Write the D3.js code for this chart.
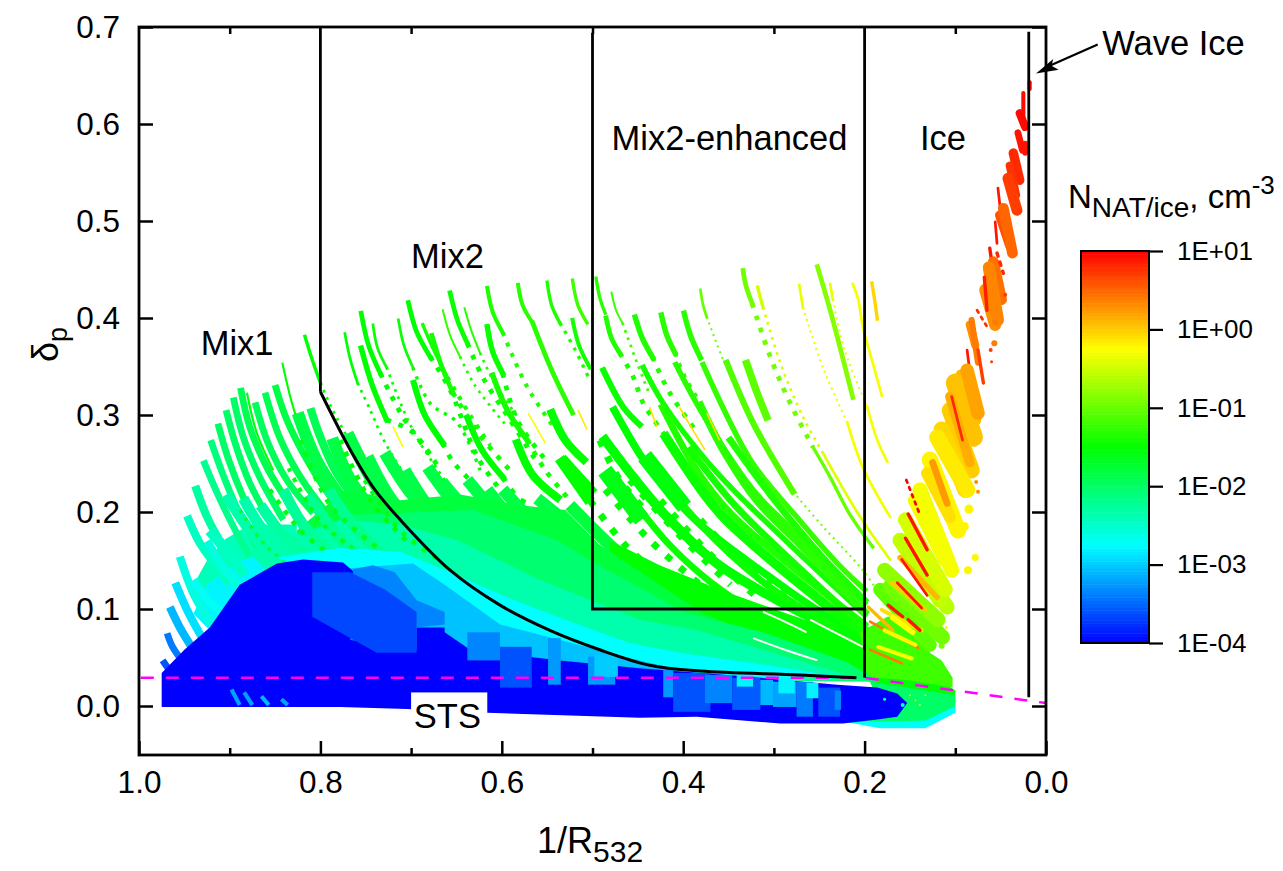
<!DOCTYPE html>
<meta charset="utf-8">
<style>
  body { margin: 0; background: #fff; }
  text { font-family: "Liberation Sans", Arial, sans-serif; fill: #000; }
  .axis path { display: none; }
  .axis line { stroke: #000; stroke-width: 2.5; }
  .axis text { font-size: 31.5px; }
  .legend line { stroke: #000; stroke-width: 2.2; }
  .legend text { font-size: 26px; }
  .label { font-size: 34.5px; }
</style>
<body>
<svg id="chart" width="1283" height="871"></svg>
<script src="https://d3js.org/d3.v7.min.js"></script>
<script>

// Values. Tracks are [log10 N, symbol size, points (1/R, delta)]

var xTicks = [1.0, 0.8, 0.6, 0.4, 0.2, 0.0];
var xMinor = [0.9, 0.7, 0.5, 0.3, 0.1];
var yTicks = [0.0, 0.1, 0.2, 0.3, 0.4, 0.5, 0.6, 0.7];
var legendTicks = [1, 0, -1, -2, -3, -4];
var legendLabels = ["1E+01", "1E+00", "1E-01", "1E-02", "1E-03", "1E-04"];

var labels = [
  ["Mix1", 0.932, 0.362], ["Mix2", 0.700, 0.452], ["Mix2-enhanced", 0.479, 0.573],
  ["Ice", 0.139, 0.573], ["Wave Ice", -0.062, 0.671]
];

// left comb
var mix1Tracks = [
  [-1.85, 5, [[.850,.331],[.837,.295],[.815,.254],[.786,.212],[.753,.181]]],
  [-1.9, 5, [[.861,.323],[.845,.277],[.822,.236],[.793,.199]]],
  [-1.95, 5, [[.872,.313],[.859,.274],[.837,.233],[.808,.199]]],
  [-1.9, 5, [[.888,.328],[.878,.288],[.859,.246],[.830,.202]]],
  [-2.0, 5, [[.896,.318],[.885,.277],[.867,.236],[.841,.192]]],
  [-2.0, 5, [[.904,.305],[.894,.271],[.878,.230],[.852,.185]]],
  [-2.0, 5, [[.913,.291],[.902,.256],[.885,.215],[.863,.174]]],
  [-2.1, 5, [[.921,.274],[.908,.240],[.891,.202],[.870,.164]]],
  [-2.2, 5, [[.929,.253],[.914,.220],[.896,.185],[.878,.154]]],
  [-2.3, 6, [[.938,.227],[.925,.195],[.907,.164],[.892,.143]]],
  [-2.45, 6, [[.947,.196],[.933,.168],[.914,.143],[.900,.125]]],
  [-2.6, 6, [[.925,.170],[.905,.140],[.888,.122]]],
  [-2.6, 6, [[.955,.154],[.940,.116],[.918,.081]]],
  [-2.7, 6, [[.940,.130],[.920,.105],[.905,.095]]],
  [-2.9, 6, [[.960,.127],[.947,.099],[.929,.068]]],
  [-3.1, 6, [[.966,.102],[.955,.081],[.940,.058]]],
  [-3.4, 5, [[.969,.075],[.963,.061],[.947,.040]]],
  [-3.6, 5, [[.974,.047],[.964,.034],[.951,.020]]],
  [-1.9, 6, [[.811,.307],[.800,.277],[.782,.240],[.756,.207]]]
];

var thinTracks = [
  [-1.55, 1.6, [[.881,.323],[.870,.281],[.852,.243]]],
  [-1.5, 1.6, [[.842,.354],[.828,.302],[.808,.257]]]
];

// serrated band along the top of the dense fan
var bandTracks = [
  [-1.85, 9, [[.825,.302],[.803,.251],[.767,.202]]],
  [-1.85, 9, [[.787,.276],[.767,.233],[.729,.187]]],
  [-1.85, 9, [[.770,.281],[.743,.233],[.701,.181]]],
  [-1.85, 9, [[.748,.257],[.721,.212],[.668,.161]]],
  [-1.85, 9, [[.729,.261],[.699,.218],[.646,.166]]],
  [-1.85, 9, [[.707,.243],[.674,.197],[.613,.145]]],
  [-1.85, 9, [[.682,.246],[.646,.202],[.580,.145]]],
  [-1.85, 9, [[.666,.231],[.624,.187],[.558,.135]]],
  [-1.85, 9, [[.638,.233],[.596,.187],[.536,.130]]],
  [-1.85, 9, [[.616,.223],[.574,.176],[.519,.130]]],
  [-1.85, 9, [[.599,.223],[.552,.176],[.492,.120]]],
  [-1.85, 9, [[.561,.214],[.519,.181],[.470,.135]]],
  [-1.8, 9, [[.525,.207],[.481,.166],[.437,.130]]]
];

var tealTracks = [
  [-2.35, 8, [[.904,.218],[.878,.181],[.851,.151]]],
  [-2.35, 8, [[.885,.214],[.863,.181],[.830,.151]]],
  [-2.3, 8, [[.866,.207],[.841,.176],[.808,.151]]],
  [-2.25, 8, [[.841,.223],[.819,.187],[.781,.151]]],
  [-2.2, 8, [[.813,.218],[.791,.187],[.753,.145]]],
  [-2.2, 8, [[.791,.223],[.764,.187],[.720,.145]]],
  [-2.45, 8, [[.922,.181],[.900,.156],[.884,.135]]]
];

var mix2Tracks = [
  [-1.5, 2.5, [[.817,.381],[.809,.357],[.800,.333]]],
  [-1.5, 2, [[.773,.384],[.767,.357],[.759,.333]]],
  [-1.5, 3.5, [[.755,.405],[.747,.372],[.734,.343]]],
  [-1.45, 2, [[.742,.393],[.737,.369],[.727,.349]]],
  [-1.5, 4, [[.755,.369],[.743,.331],[.727,.295]]],
  [-1.45, 2, [[.714,.398],[.708,.372],[.698,.349]]],
  [-1.5, 3.5, [[.703,.416],[.694,.386],[.679,.360]]],
  [-1.5, 4.5, [[.697,.333],[.685,.300],[.665,.271]]],
  [-1.4, 2.5, [[.687,.393],[.676,.369],[.660,.339]]],
  [-1.4, 3.5, [[.677,.382],[.667,.352],[.654,.323]]],
  [-1.45, 3.5, [[.657,.426],[.649,.398],[.638,.374]]],
  [-1.25, 1.5, [[.665,.408],[.657,.382],[.646,.360]]],
  [-1.3, 1.5, [[.641,.410],[.634,.388],[.624,.364]]],
  [-1.5, 4.5, [[.638,.297],[.622,.264],[.599,.236]]],
  [-1.35, 3, [[.616,.431],[.610,.406],[.599,.385]]],
  [-1.45, 4, [[.616,.391],[.610,.365],[.599,.343]]],
  [-1.4, 4, [[.610,.341],[.594,.305],[.572,.274]]],
  [-1.5, 6, [[.583,.271],[.566,.238],[.539,.215]]],
  [-1.3, 3, [[.582,.434],[.577,.413],[.566,.395]]],
  [-1.3, 3.5, [[.566,.395],[.544,.344],[.522,.302]]],
  [-1.35, 2.5, [[.550,.437],[.545,.413],[.536,.395]]],
  [-1.2, 2.5, [[.522,.439],[.516,.413],[.506,.395]]],
  [-1.4, 3, [[.522,.398],[.515,.372],[.503,.349]]],
  [-1.5, 6, [[.545,.302],[.530,.274],[.510,.254]]],
  [-1.5, 8, [[.530,.251],[.503,.223]]]
];

var mix2Dots = [
  [-1.5, 2, [[.800,.333],[.789,.310],[.764,.267],[.740,.233]]],
  [-1.5, 2, [[.759,.333],[.745,.305],[.729,.272],[.707,.238]]],
  [-1.5, 3.5, [[.734,.343],[.709,.298],[.679,.259]]],
  [-1.45, 2, [[.727,.349],[.707,.302],[.690,.271],[.663,.233]]],
  [-1.5, 3.5, [[.727,.295],[.698,.282],[.668,.243]]],
  [-1.45, 2.5, [[.698,.349],[.679,.312],[.649,.292],[.624,.243]]],
  [-1.5, 3.5, [[.679,.360],[.657,.326],[.627,.257],[.602,.223]]],
  [-1.5, 3.5, [[.665,.271],[.654,.252],[.624,.223]]],
  [-1.4, 3, [[.660,.339],[.635,.300],[.613,.269]]],
  [-1.4, 3.5, [[.654,.323],[.624,.279],[.591,.243]]],
  [-1.45, 3.5, [[.638,.374],[.621,.339],[.591,.295],[.563,.254]]],
  [-1.35, 2, [[.646,.360],[.630,.331],[.596,.290]]],
  [-1.35, 2, [[.624,.364],[.607,.331],[.580,.295]]],
  [-1.5, 4, [[.599,.236],[.583,.215],[.569,.207]]],
  [-1.35, 3, [[.599,.385],[.572,.329],[.541,.285]]],
  [-1.45, 3.5, [[.599,.343],[.583,.295],[.552,.254]]],
  [-1.4, 3.5, [[.572,.274],[.552,.243],[.525,.212]]],
  [-1.35, 2.5, [[.536,.395],[.519,.367],[.503,.336]]]
];

var enhancedTracks = [
  [-1.3, 2.5, [[.496,.441],[.492,.421],[.486,.405]]],
  [-1.2, 1.5, [[.479,.426],[.474,.408],[.467,.395]]],
  [-1.35, 3.5, [[.485,.400],[.479,.379],[.470,.364]]],
  [-1.35, 4, [[.453,.401],[.445,.379],[.434,.360]]],
  [-1.3, 4, [[.424,.403],[.418,.382],[.409,.364]]],
  [-1.3, 4, [[.399,.405],[.392,.382],[.381,.359]]],
  [-1.0, 2, [[.381,.429],[.378,.413],[.374,.401]]],
  [-0.95, 3.5, [[.334,.449],[.331,.434],[.324,.415]]],
  [-1.0, 2.5, [[.257,.267],[.238,.236],[.216,.197],[.191,.164]]],
  [-0.45, 2.5, [[.318,.432],[.315,.421],[.312,.411]]],
  [-0.4, 2, [[.246,.261],[.205,.195],[.172,.151]]],
  [-0.85, 3.5, [[.252,.453],[.238,.408],[.213,.318]]],
  [-0.05, 2.5, [[.192,.436],[.189,.419],[.186,.399]]],
  [-0.3, 2, [[.213,.435],[.207,.419],[.202,.391],[.192,.357],[.181,.320]]],
  [-0.35, 2, [[.238,.435],[.235,.419]]],
  [-0.3, 2, [[.197,.308],[.186,.274],[.175,.252]]],
  [-0.35, 2, [[.272,.434],[.268,.411]]],
  [-0.3, 2, [[.219,.292],[.202,.246],[.172,.195]]],
  [-1.1, 4.5, [[.352,.354],[.323,.292],[.279,.221]]],
  [-1.05, 5.5, [[.330,.353],[.319,.324],[.308,.298]]],
  [-1.25, 4, [[.378,.352],[.326,.254],[.275,.195],[.230,.147],[.200,.120]]],
  [-1.3, 4, [[.408,.352],[.381,.305],[.323,.223],[.268,.171],[.200,.106]]],
  [-1.4, 4, [[.444,.349],[.422,.312],[.378,.257],[.345,.223],[.282,.166],[.200,.094]]],
  [-1.45, 4.5, [[.488,.346],[.466,.308],[.448,.290]]],
  [-1.5, 5.5, [[.476,.305],[.444,.254],[.418,.223],[.381,.187],[.315,.140],[.249,.097],[.200,.073]]],
  [-1.35, 5, [[.423,.308],[.385,.243],[.348,.199],[.282,.145],[.200,.084]]],
  [-1.3, 5.5, [[.381,.310],[.356,.264],[.319,.212],[.271,.166],[.200,.097]]],
  [-1.45, 7, [[.419,.277],[.378,.220],[.356,.195],[.304,.151],[.200,.073]]],
  [-1.5, 7, [[.486,.274],[.455,.236],[.418,.195],[.363,.147],[.290,.106],[.200,.065]]],
  [-1.45, 5, [[.464,.223],[.415,.166],[.359,.120],[.282,.076],[.200,.053]]],
  [-1.45, 5, [[.431,.243],[.381,.187],[.315,.130],[.249,.089],[.200,.063]]],
  [-1.4, 5, [[.392,.264],[.343,.207],[.282,.151],[.200,.080]]],
  [-1.35, 5, [[.348,.274],[.304,.218],[.249,.156],[.200,.109]]],
  [-1.55, 12, [[.437,.251],[.404,.212]]],
  [-1.6, 12, [[.481,.236],[.451,.199]]],
  [-1.5, 8, [[.533,.251],[.506,.215]]]
];

var enhancedDots = [
  [-1.2, 2, [[.467,.395],[.451,.354],[.437,.321]]],
  [-1.35, 3.5, [[.470,.364],[.455,.339],[.444,.312],[.420,.279]]],
  [-1.35, 3.5, [[.434,.360],[.415,.323],[.387,.285]]],
  [-1.3, 3, [[.409,.364],[.398,.339],[.376,.305]]],
  [-1.0, 1.5, [[.374,.401],[.356,.357],[.343,.331]]],
  [-0.95, 3.5, [[.324,.415],[.304,.360],[.282,.312],[.257,.267]]],
  [-0.45, 2, [[.312,.411],[.293,.354],[.268,.298],[.246,.261]]],
  [-0.35, 1.5, [[.235,.419],[.222,.367],[.197,.308]]],
  [-0.35, 1.5, [[.268,.411],[.246,.349],[.219,.292]]],
  [-0.95, 1.5, [[.279,.221],[.246,.185],[.202,.140],[.181,.112]]],
  [-1.5, 5, [[.503,.212],[.464,.166],[.415,.125]]],
  [-1.5, 5, [[.486,.223],[.437,.171],[.381,.125]]],
  [-1.5, 5, [[.459,.233],[.404,.176],[.348,.125]]],
  [-1.45, 5, [[.425,.212],[.370,.156],[.315,.109]]],
  [-1.45, 5, [[.381,.192],[.332,.145],[.282,.109]]],
  [-1.5, 5, [[.492,.274],[.470,.233],[.437,.197]]]
];

var leftDots = [
  [-1.6, 3.5, [[.822,.274],[.789,.207],[.734,.161]]],
  [-1.6, 3.5, [[.856,.223],[.822,.181],[.789,.156]]],
  [-1.7, 2.5, [[.889,.202],[.861,.166],[.834,.145]]],
  [-1.55, 3.5, [[.778,.274],[.745,.212],[.701,.166]]],
  [-1.6, 3.5, [[.751,.233],[.712,.181],[.668,.150]]],
  [-1.55, 3, [[.835,.245],[.800,.190],[.760,.160]]]
];

var orangeTracks = [
  [-0.1, 1.2, [[.437,.308],[.429,.288]]],
  [-0.1, 1.2, [[.404,.308],[.396,.295],[.376,.264]]],
  [-0.1, 1.2, [[.374,.302],[.360,.274]]],
  [-0.3, 1.2, [[.571,.302],[.552,.271]]],
  [-0.3, 1.2, [[.720,.288],[.709,.267]]],
  [-0.15, 1.2, [[.516,.305],[.506,.285]]]
];

// nested fills of the dense fan, painted in this order
var fanGreen = [[.481,.171],[.426,.145],[.360,.120],[.282,.094],[.200,.068],[.155,.053],[.100,.016],[.100,.001],[.161,.011],[.200,.027],[.315,.047],[.437,.084],[.481,.120]];
var fanLime = [[.205,.076],[.175,.092],[.155,.094],[.130,.071],[.128,.055],[.115,.047],[.103,.029],[.103,.019],[.155,.027],[.197,.030]];
var fanSpring = [[.826,.181],[.773,.223],[.712,.212],[.646,.218],[.580,.207],[.530,.202],[.492,.166],[.437,.132],[.381,.097],[.312,.068],[.216,.035],[.381,.035],[.657,.109],[.767,.142],[.826,.145]];
var fanMint = [[.767,.197],[.632,.202],[.539,.171],[.499,.148],[.444,.120],[.400,.097],[.312,.076],[.219,.045],[.183,.025],[.381,.027],[.602,.089],[.712,.140],[.767,.142]];
var fanTeal = [[.880,.160],[.778,.192],[.712,.187],[.649,.171],[.558,.130],[.448,.089],[.385,.078],[.312,.058],[.238,.037],[.205,.027],[.381,.027],[.602,.089],[.712,.140],[.850,.130]];
var fanCyan = [[.850,.153],[.778,.163],[.712,.159],[.657,.138],[.594,.112],[.522,.086],[.459,.065],[.404,.055],[.315,.043],[.238,.032],[.381,.022],[.602,.058],[.767,.130]];
var fanSky = [[.767,.142],[.698,.147],[.663,.125],[.621,.097],[.602,.084],[.536,.068],[.466,.051],[.404,.037],[.448,.016],[.657,.047],[.767,.109]];
var combFill = [[.940,.125],[.925,.150],[.905,.172],[.878,.187],[.826,.187],[.826,.151],[.889,.120],[.922,.078]];
var combCyan = [[.940,.095],[.925,.125],[.889,.150],[.848,.158],[.848,.147],[.889,.120],[.922,.078]];
var tipSpring = [[.194,.025],[.100,.011],[.100,-.006],[.128,-.020],[.161,-.020],[.216,-.016],[.180,-.006]];
var tipCyan = [[.224,-.016],[.183,-.023],[.133,-.023],[.100,-.007],[.100,0],[.133,-.015],[.172,-.016]];
var stsBlue = [[.975,-.001],[.975,.034],[.950,.058],[.922,.081],[.889,.125],[.848,.147],[.819,.151],[.775,.148],[.765,.140],[.694,.081],[.663,.081],[.663,.076],[.635,.058],[.536,.047],[.448,.039],[.337,.031],[.230,.022],[.186,.019],[.164,.013],[.153,.003],[.164,-.011],[.186,-.014],[.224,-.018],[.293,-.018],[.385,-.011],[.448,-.012],[.616,-.007],[.705,-.003],[.778,-.001]];
var stsPale = [[.764,.141],[.742,.145],[.718,.138],[.694,.109],[.663,.097],[.663,.084],[.694,.081],[.694,.058],[.767,.068]];
var stsMid = [[.809,.138],[.767,.138],[.729,.120],[.694,.097],[.694,.055],[.738,.055],[.809,.092]];

// [x0, x1, y0, y1, log10 N]
var stsBlocks = [
  [.638,.602,.076,.047,-3.35],
  [.602,.567,.061,.019,-3.6],
  [.549,.535,.070,.022,-3.25],
  [.505,.475,.051,.022,-3.25],
  [.498,.472,.053,.030,-3.0],
  [.422,.411,.037,.009,-3.25],
  [.411,.370,.034,-.006,-3.6],
  [.376,.346,.032,.003,-3.35],
  [.346,.315,.029,-.004,-3.55],
  [.315,.301,.027,.001,-3.1],
  [.301,.275,.025,-.001,-3.2],
  [.341,.323,.034,.020,-2.8],
  [.295,.277,.029,.013,-2.8],
  [.275,.257,.025,-.011,-3.4],
  [.251,.227,.019,-.011,-3.6],
  [.233,.226,.016,-.004,-3.35],
  [.264,.251,.024,.008,-2.8]
];

var notchTracks = [
  [-3.2, 3, [[.898,.017],[.889,.001]]],
  [-3.2, 3, [[.884,.014],[.875,.001]]],
  [-3.1, 3, [[.865,.010],[.857,.001]]],
  [-3.2, 3, [[.843,.007],[.836,.001]]]
];

var iceTracks = [
  [1.0, 3, [[.018,.643],[.018,.636]]],
  [.95, 3, [[.025,.632],[.025,.604]]],
  [.95, 6, [[.029,.611],[.023,.597]]],
  [.9, 5, [[.031,.591],[.026,.573]]],
  [.9, 4, [[.023,.580],[.023,.570]]],
  [.8, 7, [[.036,.570],[.029,.542]]],
  [.75, 6, [[.040,.557],[.033,.527]]],
  [.7, 8, [[.042,.544],[.032,.511]]],
  [.9, 2, [[.053,.534],[.049,.501]]],
  [.6, 7, [[.051,.506],[.040,.475]]],
  [.5, 8, [[.047,.513],[.037,.467]]],
  [.9, 2, [[.056,.499],[.054,.477]]],
  [.9, 2.5, [[.062,.472],[.058,.446]]],
  [.45, 8, [[.058,.458],[.049,.419]]],
  [.3, 9, [[.067,.429],[.056,.393]]],
  [.35, 9, [[.063,.452],[.053,.398]]],
  [.85, 2.5, [[.068,.442],[.065,.408]]],
  [.3, 6, [[.084,.393],[.078,.372]]],
  [.4, 4.5, [[.082,.398],[.075,.354]]],
  [.9, 2, [[.087,.367],[.080,.315]]],
  [.7, 2.5, [[.075,.367],[.069,.333]]],
  [.1, 9, [[.093,.341],[.078,.295]]],
  [.05, 14, [[.100,.333],[.080,.277]]],
  [.2, 10, [[.087,.346],[.075,.302]]],
  [0, 12, [[.106,.305],[.082,.243]]],
  [-.05, 12, [[.115,.285],[.089,.223]]],
  [.15, 7, [[.106,.319],[.084,.251]]],
  [.8, 2, [[.104,.319],[.092,.274]]],
  [-.2, 12, [[.128,.254],[.097,.181]]],
  [-.15, 12, [[.120,.277],[.087,.223]]],
  [-.1, 9, [[.131,.240],[.106,.195]]],
  [.25, 5, [[.125,.251],[.109,.209]]],
  [-1.05, 10, [[.183,.120],[.128,.063]]],
  [-.95, 11, [[.172,.123],[.114,.071]]],
  [-.8, 11, [[.178,.140],[.119,.089]]],
  [-.6, 11, [[.158,.168],[.109,.102]]],
  [-.55, 11, [[.161,.171],[.117,.109]]],
  [-.45, 11, [[.155,.192],[.111,.120]]],
  [-.3, 11, [[.144,.212],[.111,.151]]],
  [-.3, 11, [[.139,.223],[.104,.140]]],
  [.9, 2.5, [[.152,.198],[.131,.161]]],
  [.9, 2.5, [[.155,.173],[.131,.135]]],
  [.1, 4, [[.161,.153],[.120,.112]]],
  [.9, 2, [[.159,.151],[.131,.114]]],
  [0, 3, [[.170,.127],[.133,.099]]],
  [.9, 2, [[.164,.127],[.137,.101]]],
  [-.1, 3, [[.181,.099],[.137,.078]]],
  [.1, 2.5, [[.196,.102],[.169,.078]]],
  [.9, 2.5, [[.174,.104],[.158,.092]]],
  [.9, 2.5, [[.152,.089],[.139,.078]]],
  [-.25, 4, [[.169,.091],[.147,.076]]],
  [.4, 2, [[.194,.087],[.141,.060]]],
  [-.3, 3, [[.185,.061],[.148,.049]]],
  [-.2, 3, [[.178,.078],[.144,.063]]],
  [.4, 2, [[.194,.058],[.159,.044]]]
];

var iceDotted = [
  [.8, 2.5, [[.054,.467],[.047,.446]]],
  [.8, 2, [[.076,.408],[.065,.391]]],
  [1.0, 2, [[.154,.233],[.139,.197]]]
];

// scattered round symbols [x, y, log10 N, radius]
var iceDots = [
  [.057,.374,.4,3],[.061,.367,.7,2],[.060,.355,.7,1.5],[.045,.424,.7,2],[.031,.509,.7,3],[.056,.395,.4,3],
  [.085,.203,-.2,4.5],[.090,.185,-.2,4.5],[.078,.153,-.2,3.5],[.086,.140,-.2,4],[.077,.231,.3,2],[.075,.221,.3,2],
  [.115,.062,-.9,3],[.110,.081,-.2,1.5],[.144,.006,-.1,1],[.150,.011,-.3,1],[.139,.001,-.2,1],[.133,.011,-.3,1],
  [.178,.007,-2.6,1.5],[.158,.001,-2.6,2]
];

// white slivers left between tracks
var gapTracks = [
  [[.323,.070],[.288,.058],[.252,.047]],
  [[.260,.089],[.233,.076],[.202,.061]],
  [[.312,.097],[.288,.087],[.264,.076]]
];

var boundaryCurve = [[.800,.324],[.767,.264],[.740,.223],[.712,.192],[.657,.140],[.602,.104],[.547,.078],[.492,.058],[.437,.042],[.381,.036],[.271,.032],[.209,.029]];
var boundaryLines = [
  [[.8,.7],[.8,.324]],
  [[.5,.694],[.5,.1],[.2,.1]],
  [[.2,.7],[.2,.029]],
  [[.019,.695],[.019,.009]]
];
var stsLine = [[.998,.029],[.2,.029],[0,.003]];

var svg = d3.select("#chart");

var x = d3.scaleLinear().domain([1, 0]).range([139, 1046]);
var y = d3.scaleLinear().domain([0, 0.7]).range([706, 27]);
var nColor = d3.scaleLinear()
    .domain([-4, -2.75, -1.5, -0.25, 1])
    .range(["#0000ff", "#00ffff", "#00ff00", "#ffff00", "#ff0000"]);
var nPos = d3.scaleLinear().domain([-4, 1]).range([643, 251]);
var symbolWidth = d3.scaleLinear().domain([0, 14]).range([0, 19]);

var curveLine = d3.line()
    .x(function(d) { return x(d[0]); })
    .y(function(d) { return y(d[1]); })
    .curve(d3.curveCatmullRom.alpha(0.5));
var straight = d3.line()
    .x(function(d) { return x(d[0]); })
    .y(function(d) { return y(d[1]); });
var plot = svg.append("g");

function drawTracks(data, cap, dotted) {
  plot.append("g").selectAll("path")
    .data(data)
    .enter().append("path")
    .attr("d", function(d) { return curveLine(d[2]); })
    .attr("fill", "none")
    .attr("stroke", function(d) { return nColor(d[0]); })
    .attr("stroke-width", function(d) { return symbolWidth(d[1]); })
    .attr("stroke-linecap", cap)
    .attr("stroke-dasharray", function(d) {
      var w = symbolWidth(d[1]);
      return dotted ? w + " " + (w * 1.5 + 1) : null;
    });
}

function drawFill(points, logN) {
  plot.append("path")
    .attr("d", straight(points) + "Z")
    .attr("fill", nColor(logN));
}

// back to front
drawTracks(mix2Dots, "butt", true);
drawTracks(enhancedDots, "butt", true);
drawTracks(mix2Tracks, "square", false);
drawTracks(enhancedTracks, "square", false);
drawTracks(orangeTracks, "butt", false);
drawFill(combFill, -2.4);
drawFill(combCyan, -2.8);
drawTracks(mix1Tracks, "butt", false);
drawTracks(thinTracks, "butt", false);
drawTracks(bandTracks, "butt", false);

drawFill(fanGreen, -1.5);
drawFill(fanLime, -1.2);
drawFill(fanSpring, -1.8);
drawFill(fanMint, -2.05);
drawFill(fanTeal, -2.35);
drawTracks(tealTracks, "butt", false);
drawTracks(leftDots, "butt", true);

plot.append("g").selectAll("path")
  .data(gapTracks)
  .enter().append("path")
  .attr("d", curveLine)
  .attr("fill", "none")
  .attr("stroke", "#fff")
  .attr("stroke-width", 2);

drawFill(fanCyan, -2.75);
drawFill(fanSky, -3.05);
drawFill(tipSpring, -2.0);
drawFill(tipCyan, -2.7);
drawFill(stsBlue, -4);
drawFill(stsPale, -3.35);
drawFill(stsMid, -3.65);

plot.append("g").selectAll("rect")
  .data(stsBlocks)
  .enter().append("rect")
  .attr("x", function(d) { return x(d[0]); })
  .attr("width", function(d) { return x(d[1]) - x(d[0]); })
  .attr("y", function(d) { return y(d[2]); })
  .attr("height", function(d) { return y(d[3]) - y(d[2]); })
  .attr("fill", function(d) { return nColor(d[4]); });

drawTracks(notchTracks, "butt", false);
drawTracks(iceTracks, "round", false);
drawTracks(iceDotted, "round", true);

plot.append("g").selectAll("circle")
  .data(iceDots)
  .enter().append("circle")
  .attr("cx", function(d) { return x(d[0]); })
  .attr("cy", function(d) { return y(d[1]); })
  .attr("r", function(d) { return d[3]; })
  .attr("fill", function(d) { return nColor(d[2]); });

// reference lines
svg.append("path")
  .attr("d", straight(stsLine))
  .attr("fill", "none")
  .attr("stroke", "#ff00ff")
  .attr("stroke-width", 2.5)
  .attr("stroke-dasharray", "13 12");

svg.append("path")
  .attr("d", curveLine(boundaryCurve))
  .attr("fill", "none")
  .attr("stroke", "#000")
  .attr("stroke-width", 3);

svg.append("g").selectAll("path")
  .data(boundaryLines)
  .enter().append("path")
  .attr("d", straight)
  .attr("fill", "none")
  .attr("stroke", "#000")
  .attr("stroke-width", 2.8);

// STS label sits in its own white box
svg.append("rect")
  .attr("x", x(0.700)).attr("y", y(0.014))
  .attr("width", x(0.616) - x(0.700)).attr("height", y(-0.030) - y(0.014))
  .attr("fill", "#fff");
svg.append("text")
  .attr("class", "label")
  .attr("x", x(0.660)).attr("y", y(-0.023))
  .attr("text-anchor", "middle")
  .text("STS");

svg.selectAll(".txt")
  .data(labels)
  .enter().append("text")
  .attr("class", "label")
  .attr("x", function(d) { return x(d[1]); })
  .attr("y", function(d) { return y(d[2]); })
  .text(function(d) { return d[0]; });

// frame and axes
svg.append("rect")
  .attr("x", 139).attr("y", 27).attr("width", 907).attr("height", 728)
  .attr("fill", "none").attr("stroke", "#000").attr("stroke-width", 2.8);

var fmt = d3.format(".1f");

svg.append("g").attr("class", "axis").attr("transform", "translate(0,755)")
  .call(d3.axisBottom(x).tickValues(xTicks).tickFormat(fmt).tickSize(-14).tickPadding(16));
svg.append("g").attr("class", "axis").attr("transform", "translate(0,755)")
  .call(d3.axisBottom(x).tickValues(xMinor).tickFormat("").tickSize(-7));
svg.append("g").attr("class", "axis").attr("transform", "translate(0,27)")
  .call(d3.axisTop(x).tickValues(xMinor).tickFormat("").tickSize(-7));
svg.append("g").attr("class", "axis").attr("transform", "translate(139,0)")
  .call(d3.axisLeft(y).tickValues(yTicks).tickFormat(fmt).tickSize(-14).tickPadding(19));
svg.append("g").attr("class", "axis").attr("transform", "translate(1046,0)")
  .call(d3.axisRight(y).tickValues(yTicks).tickFormat("").tickSize(-14));

// axis titles
var xTitle = svg.append("text").attr("x", 537).attr("y", 853).attr("font-size", 36);
xTitle.append("tspan").text("1/R");
xTitle.append("tspan").attr("dy", 9).attr("font-size", 30).text("532");

var yTitle = svg.append("text")
  .attr("transform", "translate(58,362) rotate(-90)")
  .attr("font-size", 36);
yTitle.append("tspan").text("\u03b4");
yTitle.append("tspan").attr("dy", 9).attr("font-size", 27).text("p");

// colour scale
var legendStep = 5 / 120;
var steps = d3.range(-4, 1, legendStep);
svg.append("g").selectAll("rect")
  .data(steps)
  .enter().append("rect")
  .attr("x", 1081).attr("width", 68)
  .attr("y", function(d) { return nPos(d + legendStep); })
  .attr("height", nPos(0) - nPos(legendStep) + 0.5)
  .attr("fill", function(d) { return nColor(d + legendStep / 2); });
svg.append("rect")
  .attr("x", 1081).attr("y", 251).attr("width", 68).attr("height", 392)
  .attr("fill", "none").attr("stroke", "#000").attr("stroke-width", 2);

svg.append("g").attr("class", "legend").attr("transform", "translate(1149,0)")
  .call(d3.axisRight(nPos).tickValues(legendTicks)
    .tickFormat(function(d, i) { return legendLabels[i]; })
    .tickSize(14).tickPadding(14))
  .select(".domain").remove();

var nTitle = svg.append("text").attr("x", 1068).attr("y", 208).attr("font-size", 33);
nTitle.append("tspan").text("N");
nTitle.append("tspan").attr("dy", 9).attr("font-size", 28).text("NAT/ice");
nTitle.append("tspan").attr("dy", -9).text(", cm");
nTitle.append("tspan").attr("dy", -14).attr("font-size", 26).text("-3");

// arrow to the wave ice branch
svg.append("line")
  .attr("x1", x(-0.057)).attr("y1", y(0.682))
  .attr("x2", x(0.001)).attr("y2", y(0.658))
  .attr("stroke", "#000").attr("stroke-width", 2.2);
svg.append("path")
  .attr("d", straight([[.011,.652],[-.014,.656],[-.006,.660],[-.008,.667]]) + "Z")
  .attr("fill", "#000");

</script>
</body>
